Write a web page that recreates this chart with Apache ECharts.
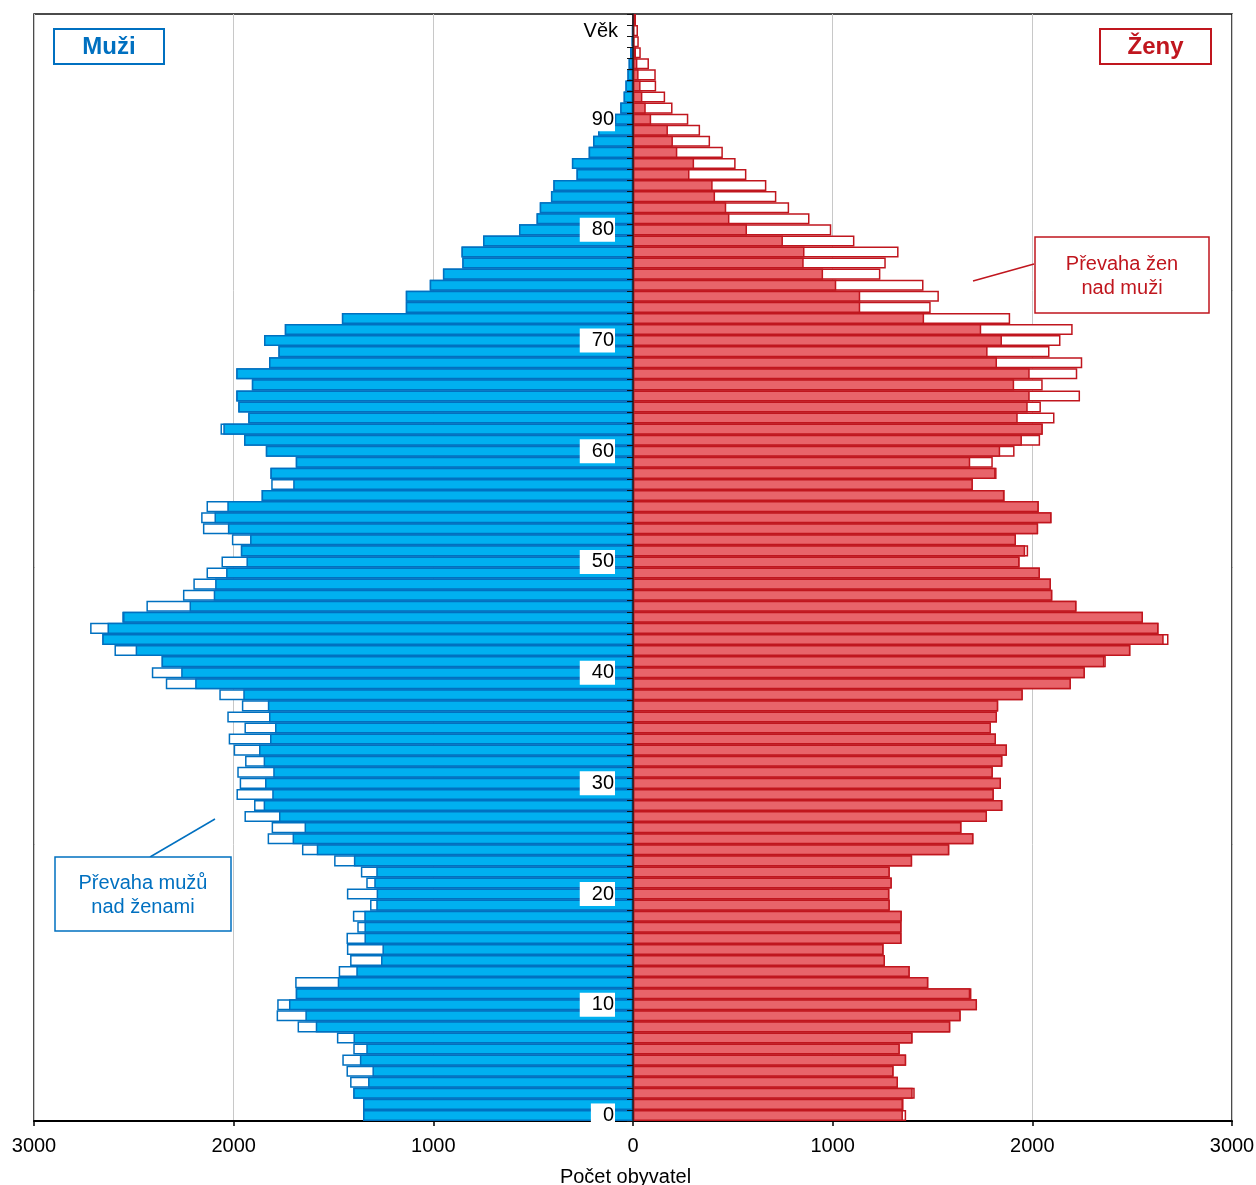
<!DOCTYPE html>
<html>
<head>
<meta charset="utf-8">
<script src="https://cdn.jsdelivr.net/npm/echarts@6/dist/echarts.min.js"></script>
<style>
html,body{margin:0;padding:0;background:#fff;}
#chart{width:1256px;height:1185px;}
</style>
</head>
<body>
<div id="chart"></div>
<script>
// Ages 0..99
const ages = [];
for (let a = 0; a <= 99; a++) ages.push(String(a));

// Males by age (0..99)
const male = [
1352,1352,1401,1417,1435,1456,1401,1483,1680,1785,
1782,1689,1692,1474,1417,1433,1435,1381,1403,1317,
1433,1336,1363,1497,1658,1830,1810,1946,1898,1986,
1970,1982,1943,2000,2025,1946,2032,1959,2072,2340,
2410,2361,2597,2658,2719,2558,2437,2254,2202,2136,
2061,1964,2009,2154,2163,2136,1860,1812,1816,1689,
1839,1948,2066,1927,1977,1987,1909,1987,1823,1776,
1848,1744,1458,1138,1138,1018,952,855,859,751,
571,483,467,411,399,283,306,222,200,175,
91,64,47,38,28,22,15,7,4,2
];

// Females by age (0..99)
const female = [
1368,1355,1411,1327,1305,1368,1336,1400,1589,1641,
1723,1695,1479,1386,1262,1255,1345,1345,1346,1286,
1284,1296,1286,1398,1584,1705,1645,1773,1850,1807,
1843,1802,1850,1873,1818,1793,1823,1829,1952,2193,
2263,2368,2491,2682,2632,2554,2221,2100,2093,2038,
1936,1979,1918,2029,2096,2032,1861,1702,1821,1802,
1911,2039,2052,2111,2043,2239,2052,2225,2250,2086,
2141,2202,1889,1491,1532,1455,1239,1266,1330,1109,
993,884,782,718,668,568,514,450,386,336,
277,198,161,116,114,80,39,29,25,15
];

const xTicks = [-3000,-2000,-1000,0,1000,2000,3000];

const common = male.map((m, i) => Math.min(m, female[i]));

const BLUE = '#00B0F0', BLUE_D = '#0070C0';
const RED = '#E8646A', RED_D = '#C0161E';
const FONT = '"Liberation Sans", Arial, sans-serif';

const W = 1256, H = 1185;
const GL = 34, GR = 24, GT = 14, GB = 64;
const halfWidth = (W - GL - GR) / 2;

const chart = echarts.init(document.getElementById('chart'), null, {renderer: 'canvas'});

const barBase = {
  type: 'bar',
  barGap: '-100%',
  barCategoryGap: '0%',
  animation: false,
  silent: true
};

chart.setOption({
  animation: false,
  textStyle: {fontFamily: FONT},
  grid: {
    left: GL, right: GR, top: GT, bottom: GB,
    outerBoundsMode: 'none',
    containLabel: false,
    show: true, borderColor: '#111', borderWidth: 1.5, backgroundColor: 'transparent'
  },
  xAxis: {
    type: 'value',
    min: xTicks[0], max: xTicks[xTicks.length - 1], interval: 1000,
    axisLine: {show: true, lineStyle: {color: '#000', width: 2}},
    axisTick: {show: true, length: 5, lineStyle: {color: '#000', width: 1.5}},
    axisLabel: {
      color: '#000', fontSize: 20, fontFamily: FONT, margin: 15,
      formatter: v => String(Math.abs(v))
    },
    splitLine: {show: true, lineStyle: {color: '#c8c8c8', width: 1}},
    name: 'Počet obyvatel',
    nameLocation: 'middle',
    nameGap: 46,
    nameTextStyle: {color: '#000', fontSize: 20, fontFamily: FONT, padding: [0, 15, 0, 0]}
  },
  yAxis: {
    type: 'category',
    data: ages,
    z: 10,
    position: 'left',
    offset: -halfWidth,
    axisLine: {show: true, onZero: false, lineStyle: {color: '#222', width: 1.5}},
    axisTick: {show: true, interval: 0, length: 6, lineStyle: {color: '#111', width: 1}},
    axisLabel: {
      interval: 9,
      color: '#000', fontSize: 20, fontFamily: FONT,
      margin: 18,
      backgroundColor: '#fff',
      padding: [2, 1, 1, 12],
      lineHeight: 21
    },
    splitLine: {show: false},
    name: 'Věk',
    nameLocation: 'end',
    nameGap: -17,
    nameTextStyle: {
      color: '#000', fontSize: 20, fontFamily: FONT,
      align: 'right', verticalAlign: 'middle', padding: [0, 15, 0, 0]
    }
  },
  series: [
    Object.assign({}, barBase, {
      name: 'Muži celkem',
      data: male.map(v => -v),
      itemStyle: {color: '#fff', borderColor: BLUE_D, borderWidth: 1.5}
    }),
    Object.assign({}, barBase, {
      name: 'Ženy celkem',
      data: female.slice(),
      itemStyle: {color: '#fff', borderColor: RED_D, borderWidth: 1.5}
    }),
    Object.assign({}, barBase, {
      name: 'Muži',
      data: common.map(v => -v),
      itemStyle: {color: BLUE, borderColor: BLUE_D, borderWidth: 1.5}
    }),
    Object.assign({}, barBase, {
      name: 'Ženy',
      data: common.slice(),
      itemStyle: {color: RED, borderColor: RED_D, borderWidth: 1.5}
    })
  ],
  graphic: [
    {type: 'rect', z: 100, shape: {x: 54, y: 29, width: 110, height: 35},
     style: {fill: '#fff', stroke: BLUE_D, lineWidth: 2}},
    {type: 'text', z: 101, x: 109, y: 47,
     style: {text: 'Muži', fill: BLUE_D, font: 'bold 24px ' + FONT, align: 'center', verticalAlign: 'middle'}},
    {type: 'rect', z: 100, shape: {x: 1100, y: 29, width: 111, height: 35},
     style: {fill: '#fff', stroke: RED_D, lineWidth: 2}},
    {type: 'text', z: 101, x: 1155.5, y: 47,
     style: {text: 'Ženy', fill: RED_D, font: 'bold 24px ' + FONT, align: 'center', verticalAlign: 'middle'}},

    {type: 'line', z: 100, shape: {x1: 973, y1: 281, x2: 1034, y2: 264},
     style: {stroke: RED_D, lineWidth: 1.5}},
    {type: 'rect', z: 100, shape: {x: 1035, y: 237, width: 174, height: 76},
     style: {fill: '#fff', stroke: RED_D, lineWidth: 1.5}},
    {type: 'text', z: 101, x: 1122, y: 276,
     style: {text: 'Převaha žen\nnad muži', fill: RED_D, font: '20px ' + FONT, align: 'center', verticalAlign: 'middle', lineHeight: 24}},

    {type: 'line', z: 100, shape: {x1: 150, y1: 857, x2: 215, y2: 819},
     style: {stroke: BLUE_D, lineWidth: 1.5}},
    {type: 'rect', z: 100, shape: {x: 55, y: 857, width: 176, height: 74},
     style: {fill: '#fff', stroke: BLUE_D, lineWidth: 1.5}},
    {type: 'text', z: 101, x: 143, y: 895,
     style: {text: 'Převaha mužů\nnad ženami', fill: BLUE_D, font: '20px ' + FONT, align: 'center', verticalAlign: 'middle', lineHeight: 24}}
  ]
});
</script>
</body>
</html>
